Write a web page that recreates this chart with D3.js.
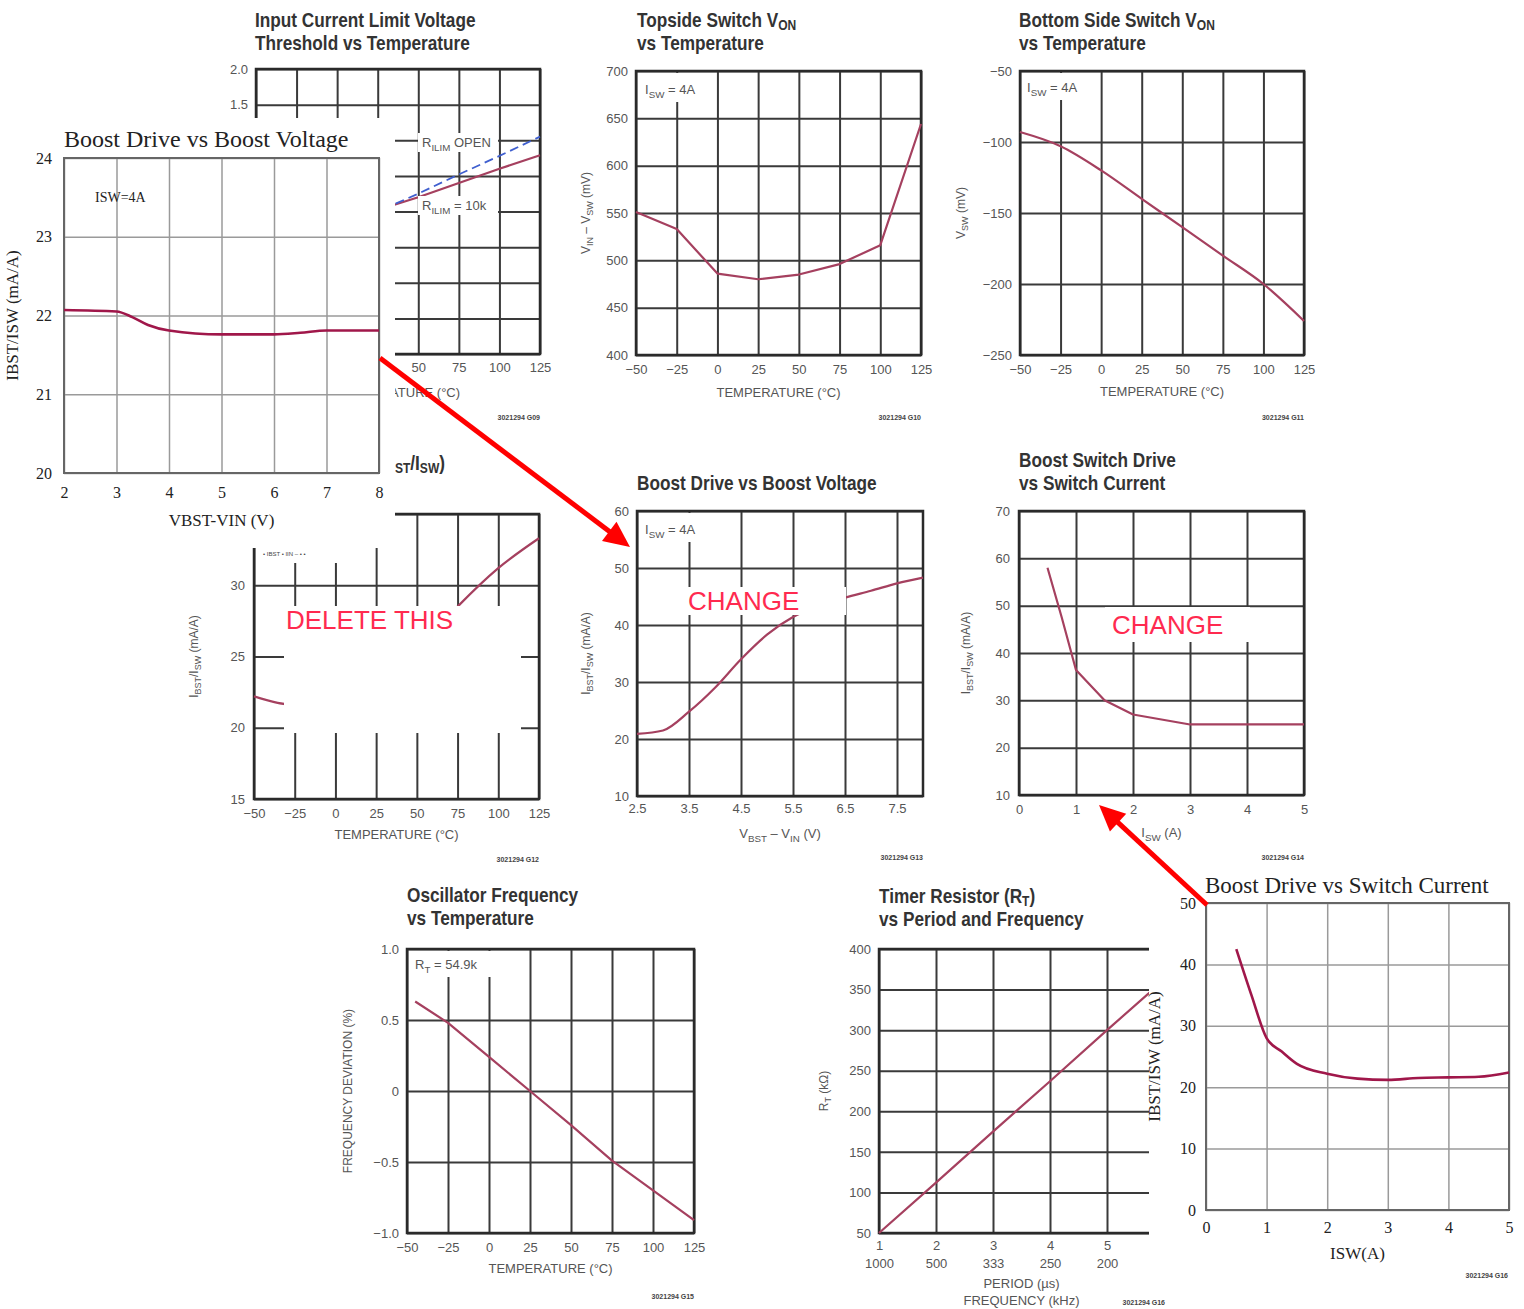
<!DOCTYPE html>
<html>
<head>
<meta charset="utf-8">
<script src="https://cdn.jsdelivr.net/npm/d3@7"></script>
<style>
  body { margin: 0; background: #fff; }
  svg { display: block; }
</style>
</head>
<body>
<script>
// ---- data ----
const tempTicks = [-50, -25, 0, 25, 50, 75, 100, 125];

// input current limit threshold vs temperature (mostly covered)
const ilimTicks = [-2, -1.5, -1, -0.5, 0, 0.5, 1, 1.5, 2];
const ilimShownY = [2, 1.5];
const ilimShownX = [50, 75, 100, 125];
const ilimOpen = [-0.8, -0.53, -0.27, 0.0, 0.25, 0.52, 0.78, 1.05];
const ilim10k = [-0.55, -0.36, -0.17, 0.02, 0.2, 0.4, 0.6, 0.79];

// boost drive vs temperature (the deleted one)
const bdTempTicks = [15, 20, 25, 30, 35];
const bdTempLabels = [15, 20, 25, 30];
const bdTempVal = [22.2, 21.6, 22.0, 23.2, 25.4, 28.5, 31.2, 33.3];

// topside / bottom side switch von
const topTicks = [400, 450, 500, 550, 600, 650, 700];
const topVon = [551, 533, 486, 480, 485, 496, 516, 644];
const botTicks = [-250, -200, -150, -100, -50];
const botVon = [-93, -103, -120, -140, -160, -180, -200, -226];

// boost drive vs boost voltage (datasheet)
const vbstTicks = [2.5, 3.5, 4.5, 5.5, 6.5, 7.5];
const vbst = [2.5, 3.0, 3.5, 4.0, 4.5, 5.0, 5.5, 6.0, 6.5, 7.0, 7.5, 8.0];
const vbstDrive = [20.9, 21.5, 24.8, 29.0, 34.0, 38.3, 41.4, 43.3, 44.8, 46.0, 47.3, 48.3];
const driveTicks = [10, 20, 30, 40, 50, 60];

// boost switch drive vs switch current (datasheet)
const iswTicks = [0, 1, 2, 3, 4, 5];
const swTicks = [10, 20, 30, 40, 50, 60, 70];
const iswG = [0.5, 0.75, 1.0, 1.5, 2.0, 3.0, 4.0, 5.0];
const swDrive = [58, 47.5, 36.4, 30, 27, 24.9, 24.9, 24.9];

// oscillator frequency vs temperature
const oscTicks = [-1, -0.5, 0, 0.5, 1];
const oscTemp = [-45, -25, 0, 25, 50, 75, 100, 125];
const oscDev = [0.63, 0.48, 0.24, 0.0, -0.24, -0.49, -0.70, -0.91];

// timer resistor vs period
const periodTicks = [1, 2, 3, 4, 5];
const freqLabels = ["1000", "500", "333", "250", "200"];
const rtTicks = [50, 100, 150, 200, 250, 300, 350, 400];
const period = [1, 2, 3, 4, 5, 6];
const rt = [50, 112, 175, 237, 300, 362];

// overlay: boost drive vs boost voltage (new)
const vbstB = [2, 3, 3.3, 3.6, 4, 5, 6, 6.5, 7, 8];
const driveB = [22.07, 22.05, 21.98, 21.88, 21.81, 21.76, 21.76, 21.78, 21.81, 21.81];
const vbstBTicks = [2, 3, 4, 5, 6, 7, 8];
const driveBTicks = [20, 21, 22, 23, 24];

// overlay: boost drive vs switch current (new)
const iswJ = [0.5, 0.75, 1, 1.25, 1.5, 2, 2.5, 3, 3.5, 4, 4.5, 5];
const driveJ = [42.5, 35, 28, 25.8, 23.8, 22.2, 21.4, 21.2, 21.5, 21.6, 21.7, 22.4];
const driveJTicks = [0, 10, 20, 30, 40, 50];

// ---- styles ----
const DS = {
  font: '"Liberation Sans Narrow","Arial Narrow","Liberation Sans",Arial,sans-serif',
  grid: "#3a3a3a", gw: 2, frame: "#2a2a2a", fw: 2.5,
  tick: 13, tickFill: "#555", line: "#a5405f", lw: 2.2
};
const TM = {
  font: '"Liberation Serif","Times New Roman",serif',
  grid: "#9a9a9a", gw: 1.5, frame: "#666", fw: 2,
  tick: 16, tickFill: "#222", line: "#a0174a", lw: 2.6
};
const RED = "#ff2a4f";
const TSIZE = 21, TSQUEEZE = 0.82;

const svg = d3.select("body").append("svg").attr("width", 1524).attr("height", 1309);

const fmtInt = d3.format("d");
const fmt1 = v => v === 0 ? "0" : d3.format(".1f")(v);

// text with subscripts: parts are strings or {s: "sub"}
function rich(sel, parts, size, k = 0.28, ks = 0.75) {
  let up = 0;
  parts.forEach(p => {
    const t = sel.append("tspan");
    if (typeof p === "string") {
      if (up) t.attr("dy", -up);
      up = 0;
      t.text(p);
    } else {
      up = size * k;
      t.attr("dy", up).attr("font-size", size * ks).text(p.s);
    }
  });
  return sel;
}

function panel(o, st) {
  const x = d3.scaleLinear().domain(o.xd).range([o.l, o.r]);
  const y = d3.scaleLinear().domain(o.yd).range([o.b, o.t]);
  const g = svg.append("g");
  const gx = g.append("g").attr("transform", `translate(0,${o.b})`)
    .call(d3.axisBottom(x).tickValues(o.xg).tickSize(-(o.b - o.t)).tickFormat(""));
  const gy = g.append("g").attr("transform", `translate(${o.l},0)`)
    .call(d3.axisLeft(y).tickValues(o.yg).tickSize(-(o.r - o.l)).tickFormat(""));
  [gx, gy].forEach(s => {
    s.select(".domain").remove();
    s.selectAll("line").attr("stroke", st.grid).attr("stroke-width", st.gw);
  });
  g.append("rect")
    .attr("x", o.l).attr("y", o.t).attr("width", o.r - o.l).attr("height", o.b - o.t)
    .attr("fill", "none").attr("stroke", st.frame).attr("stroke-width", st.fw);

  const lx = g.append("g").attr("transform", `translate(0,${o.b})`)
    .call(d3.axisBottom(x).tickValues(o.xt).tickSize(0).tickPadding(o.xpad).tickFormat(o.xf));
  const ly = g.append("g").attr("transform", `translate(${o.l},0)`)
    .call(d3.axisLeft(y).tickValues(o.yt).tickSize(0).tickPadding(o.ypad).tickFormat(o.yf));
  [lx, ly].forEach(s => {
    s.select(".domain").remove();
    s.attr("font-family", st.font).attr("font-size", st.tick);
    s.selectAll("text").attr("fill", st.tickFill);
  });
  return { x, y, g, o, st };
}

function curve(p, xs, ys, opts = {}) {
  const ln = d3.line().x(d => p.x(d[0])).y(d => p.y(d[1])).curve(opts.curve || d3.curveLinear);
  const path = p.g.append("path").datum(d3.zip(xs, ys))
    .attr("fill", "none")
    .attr("stroke", opts.color || p.st.line)
    .attr("stroke-width", opts.w || p.st.lw)
    .attr("stroke-linejoin", "round")
    .attr("d", ln);
  if (opts.dash) path.attr("stroke-dasharray", opts.dash);
}

// datasheet titles: bold, squeezed to look like a condensed face
function title(x, y, lines, anchor) {
  lines.forEach((parts, i) => {
    const t = svg.append("text")
      .attr("transform", `translate(${x},${y + i * 23}) scale(${TSQUEEZE},1)`)
      .attr("text-anchor", anchor || "start")
      .attr("font-family", DS.font).attr("font-size", TSIZE)
      .attr("font-weight", "bold").attr("fill", "#333");
    rich(t, parts, TSIZE, 0.12, 0.7);
  });
}

function xTitle(p, parts, dy, size) {
  const o = p.o;
  const t = p.g.append("text").attr("x", (o.l + o.r) / 2).attr("y", o.b + dy)
    .attr("text-anchor", "middle").attr("font-family", p.st.font)
    .attr("font-size", size).attr("fill", p.st.tickFill);
  rich(t, parts, size);
}

function yTitle(p, parts, dx, size) {
  const o = p.o;
  const t = p.g.append("text")
    .attr("transform", `translate(${o.l - dx},${(o.t + o.b) / 2}) rotate(-90)`)
    .attr("text-anchor", "middle").attr("font-family", p.st.font)
    .attr("font-size", size).attr("fill", p.st.tickFill);
  rich(t, parts, size);
}

function note(p, parts, x, y, bw, size) {
  p.g.append("rect").attr("x", x - 4).attr("y", p.o.t + 2).attr("width", bw).attr("height", y - p.o.t + 6)
    .attr("fill", "#fff");
  const t = p.g.append("text").attr("x", x).attr("y", y)
    .attr("font-family", p.st.font).attr("font-size", size || 13).attr("fill", p.st.tickFill);
  rich(t, parts, size || 13);
}

function code(txt, x, y) {
  svg.append("text").attr("x", x).attr("y", y).attr("text-anchor", "end")
    .attr("font-family", DS.font).attr("font-size", 7).attr("font-weight", "bold")
    .attr("fill", "#444").text(txt);
}

function mask(x, y, w, h) {
  svg.append("rect").attr("x", x).attr("y", y).attr("width", w).attr("height", h).attr("fill", "#fff");
}

// ---- A: input current limit voltage threshold ----
const pA = panel({
  l: 256, r: 540, t: 69, b: 354, xd: [-50, 125], yd: [-2, 2],
  xg: tempTicks, yg: ilimTicks, xt: ilimShownX, yt: ilimShownY,
  xf: fmtInt, yf: fmt1, xpad: 9, ypad: 8
}, DS);
title(255, 27, [["Input Current Limit Voltage"], ["Threshold vs Temperature"]]);
curve(pA, tempTicks, ilim10k);
curve(pA, tempTicks, ilimOpen, { color: "#3f5fcf", w: 1.8, dash: "9,5" });
[["R", { s: "ILIM" }, " OPEN"], ["R", { s: "ILIM" }, " = 10k"]].forEach((parts, i) => {
  const yy = i === 0 ? 147 : 210;
  pA.g.append("rect").attr("x", 418).attr("y", yy - 14).attr("width", 80).attr("height", 19).attr("fill", "#fff");
  const t = pA.g.append("text").attr("x", 422).attr("y", yy)
    .attr("font-family", DS.font).attr("font-size", 13).attr("fill", "#555");
  rich(t, parts, 13);
});
xTitle(pA, ["TEMPERATURE (°C)"], 43, 13);
code("3021294 G09", 540, 420);

// ---- C: boost drive vs temperature (partly deleted) ----
const pC = panel({
  l: 254, r: 539, t: 514, b: 799, xd: [-50, 125], yd: [15, 35],
  xg: tempTicks, yg: bdTempTicks, xt: tempTicks, yt: bdTempLabels,
  xf: fmtInt, yf: fmtInt, xpad: 10, ypad: 9
}, DS);
curve(pC, tempTicks, bdTempVal, { curve: d3.curveMonotoneX });
title(445, 470, [["Boost Drive (I", { s: "BST" }, "/I", { s: "SW" }, ")"]], "end");
xTitle(pC, ["TEMPERATURE (°C)"], 40, 13);
yTitle(pC, ["I", { s: "BST" }, "/I", { s: "SW" }, " (mA/A)"], 56, 12);
code("3021294 G12", 539, 862);

// ---- D: topside switch von ----
const pD = panel({
  l: 636, r: 921, t: 71, b: 355, xd: [-50, 125], yd: [400, 700],
  xg: tempTicks, yg: topTicks, xt: tempTicks, yt: topTicks,
  xf: fmtInt, yf: fmtInt, xpad: 10, ypad: 8
}, DS);
title(637, 27, [["Topside Switch V", { s: "ON" }], ["vs Temperature"]]);
note(pD, ["I", { s: "SW" }, " = 4A"], 645, 94, 66);
curve(pD, tempTicks, topVon);
xTitle(pD, ["TEMPERATURE (°C)"], 42, 13);
yTitle(pD, ["V", { s: "IN" }, " – V", { s: "SW" }, " (mV)"], 46, 12);
code("3021294 G10", 921, 420);

// ---- E: bottom side switch von ----
const pE = panel({
  l: 1020, r: 1304, t: 71, b: 355, xd: [-50, 125], yd: [-250, -50],
  xg: tempTicks, yg: botTicks, xt: tempTicks, yt: botTicks,
  xf: fmtInt, yf: fmtInt, xpad: 10, ypad: 8
}, DS);
title(1019, 27, [["Bottom Side Switch V", { s: "ON" }], ["vs Temperature"]]);
note(pE, ["I", { s: "SW" }, " = 4A"], 1027, 92, 66);
curve(pE, tempTicks, botVon, { curve: d3.curveMonotoneX });
xTitle(pE, ["TEMPERATURE (°C)"], 41, 13);
yTitle(pE, ["V", { s: "SW" }, " (mV)"], 55, 12);
code("3021294 G11", 1304, 420);

// ---- F: boost drive vs boost voltage (datasheet) ----
const pF = panel({
  l: 637, r: 923, t: 511, b: 796, xd: [2.5, 8], yd: [10, 60],
  xg: vbstTicks, yg: driveTicks, xt: vbstTicks, yt: driveTicks,
  xf: d3.format(".1f"), yf: fmtInt, xpad: 8, ypad: 8
}, DS);
title(637, 490, [["Boost Drive vs Boost Voltage"]]);
note(pF, ["I", { s: "SW" }, " = 4A"], 645, 534, 66);
curve(pF, vbst, vbstDrive, { curve: d3.curveMonotoneX });
xTitle(pF, ["V", { s: "BST" }, " – V", { s: "IN" }, " (V)"], 42, 13);
yTitle(pF, ["I", { s: "BST" }, "/I", { s: "SW" }, " (mA/A)"], 47, 12);
code("3021294 G13", 923, 860);

// ---- G: boost switch drive vs switch current (datasheet) ----
const pG = panel({
  l: 1019, r: 1304, t: 511, b: 795, xd: [0, 5], yd: [10, 70],
  xg: iswTicks, yg: swTicks, xt: iswTicks, yt: swTicks,
  xf: fmtInt, yf: fmtInt, xpad: 10, ypad: 9
}, DS);
title(1019, 467, [["Boost Switch Drive"], ["vs Switch Current"]]);
curve(pG, iswG, swDrive);
xTitle(pG, ["I", { s: "SW" }, " (A)"], 42, 13);
yTitle(pG, ["I", { s: "BST" }, "/I", { s: "SW" }, " (mA/A)"], 49, 12);
code("3021294 G14", 1304, 860);

// ---- H: oscillator frequency vs temperature ----
const pH = panel({
  l: 407, r: 694, t: 949, b: 1233, xd: [-50, 125], yd: [-1, 1],
  xg: tempTicks, yg: oscTicks, xt: tempTicks, yt: oscTicks,
  xf: fmtInt, yf: fmt1, xpad: 10, ypad: 8
}, DS);
title(407, 902, [["Oscillator Frequency"], ["vs Temperature"]]);
note(pH, ["R", { s: "T" }, " = 54.9k"], 415, 969, 80);
curve(pH, oscTemp, oscDev);
xTitle(pH, ["TEMPERATURE (°C)"], 40, 13);
yTitle(pH, ["FREQUENCY DEVIATION (%)"], 55, 12);
code("3021294 G15", 694, 1299);

// ---- I: timer resistor vs period and frequency ----
const pI = panel({
  l: 879, r: 1164, t: 949, b: 1233, xd: [1, 6], yd: [50, 400],
  xg: periodTicks, yg: rtTicks, xt: periodTicks, yt: rtTicks,
  xf: fmtInt, yf: fmtInt, xpad: 8, ypad: 8
}, DS);
{
  const f = pI.g.append("g").attr("transform", `translate(0,${pI.o.b})`)
    .call(d3.axisBottom(pI.x).tickValues(periodTicks).tickSize(0).tickPadding(26)
      .tickFormat((d, i) => freqLabels[i]));
  f.select(".domain").remove();
  f.attr("font-family", DS.font).attr("font-size", 13);
  f.selectAll("text").attr("fill", "#555");
}
title(879, 903, [["Timer Resistor (R", { s: "T" }, ")"], ["vs Period and Frequency"]]);
curve(pI, period, rt);
xTitle(pI, ["PERIOD (µs)"], 55, 13);
xTitle(pI, ["FREQUENCY (kHz)"], 72, 13);
yTitle(pI, ["R", { s: "T" }, " (kΩ)"], 51, 12);

// ---- edits on the datasheet page ----
mask(258, 548, 100, 15);
mask(284, 606, 237, 127);
mask(687, 587, 159, 28);
mask(1105, 607, 145, 35);
svg.append("text").attr("x", 263).attr("y", 556).attr("font-family", DS.font)
  .attr("font-size", 6).attr("fill", "#444").text("• IBST     • IIN  – • •");
code("30218294 G13", 377, 547);

[["DELETE THIS", 286, 629], ["CHANGE", 688, 610], ["CHANGE", 1112, 634]].forEach(([s, x, y]) => {
  svg.append("text").attr("x", x).attr("y", y)
    .attr("font-family", '"Liberation Sans",Arial,sans-serif').attr("font-size", 26)
    .attr("fill", RED).text(s);
});

// ---- B overlay: new boost drive vs boost voltage ----
mask(0, 118, 395, 430);
const pB = panel({
  l: 64, r: 379, t: 158, b: 473, xd: [2, 8], yd: [20, 24],
  xg: vbstBTicks, yg: driveBTicks, xt: vbstBTicks, yt: driveBTicks,
  xf: fmtInt, yf: fmtInt, xpad: 14, ypad: 12
}, TM);
svg.append("text").attr("x", 64).attr("y", 147).attr("font-family", TM.font)
  .attr("font-size", 24).attr("fill", "#222").text("Boost Drive vs Boost Voltage");
pB.g.append("text").attr("x", 95).attr("y", 202).attr("font-family", TM.font)
  .attr("font-size", 14).attr("fill", "#222").text("ISW=4A");
curve(pB, vbstB, driveB, { curve: d3.curveMonotoneX });
xTitle(pB, ["VBST-VIN (V)"], 53, 17);
yTitle(pB, ["IBST/ISW (mA/A)"], 46, 17);

// ---- J overlay: new boost drive vs switch current ----
mask(1149, 866, 375, 443);
const pJ = panel({
  l: 1206, r: 1509, t: 903, b: 1210, xd: [0, 5], yd: [0, 50],
  xg: iswTicks, yg: driveJTicks, xt: iswTicks, yt: driveJTicks,
  xf: fmtInt, yf: fmtInt, xpad: 12, ypad: 10
}, TM);
svg.append("text").attr("x", 1205).attr("y", 893).attr("font-family", TM.font)
  .attr("font-size", 23).attr("fill", "#222").text("Boost Drive vs Switch Current");
curve(pJ, iswJ, driveJ, { curve: d3.curveMonotoneX });
xTitle(pJ, ["ISW(A)"], 49, 17);
yTitle(pJ, ["IBST/ISW (mA/A)"], 46, 17);
code("3021294 G16", 1508, 1278);
code("3021294 G16", 1165, 1305);

// ---- red arrows ----
function arrow(x0, y0, x1, y1) {
  const len = Math.hypot(x1 - x0, y1 - y0), ux = (x1 - x0) / len, uy = (y1 - y0) / len;
  const hl = 26, hw = 12, bx = x1 - ux * hl, by = y1 - uy * hl;
  svg.append("line").attr("x1", x0).attr("y1", y0).attr("x2", bx + ux * 4).attr("y2", by + uy * 4)
    .attr("stroke", "#f00").attr("stroke-width", 5);
  svg.append("path")
    .attr("d", `M${x1},${y1}L${bx - uy * hw},${by + ux * hw}L${bx + uy * hw},${by - ux * hw}Z`)
    .attr("fill", "#f00");
}
arrow(380, 358, 630, 547);
arrow(1207, 905, 1099, 805);
</script>
</body>
</html>
